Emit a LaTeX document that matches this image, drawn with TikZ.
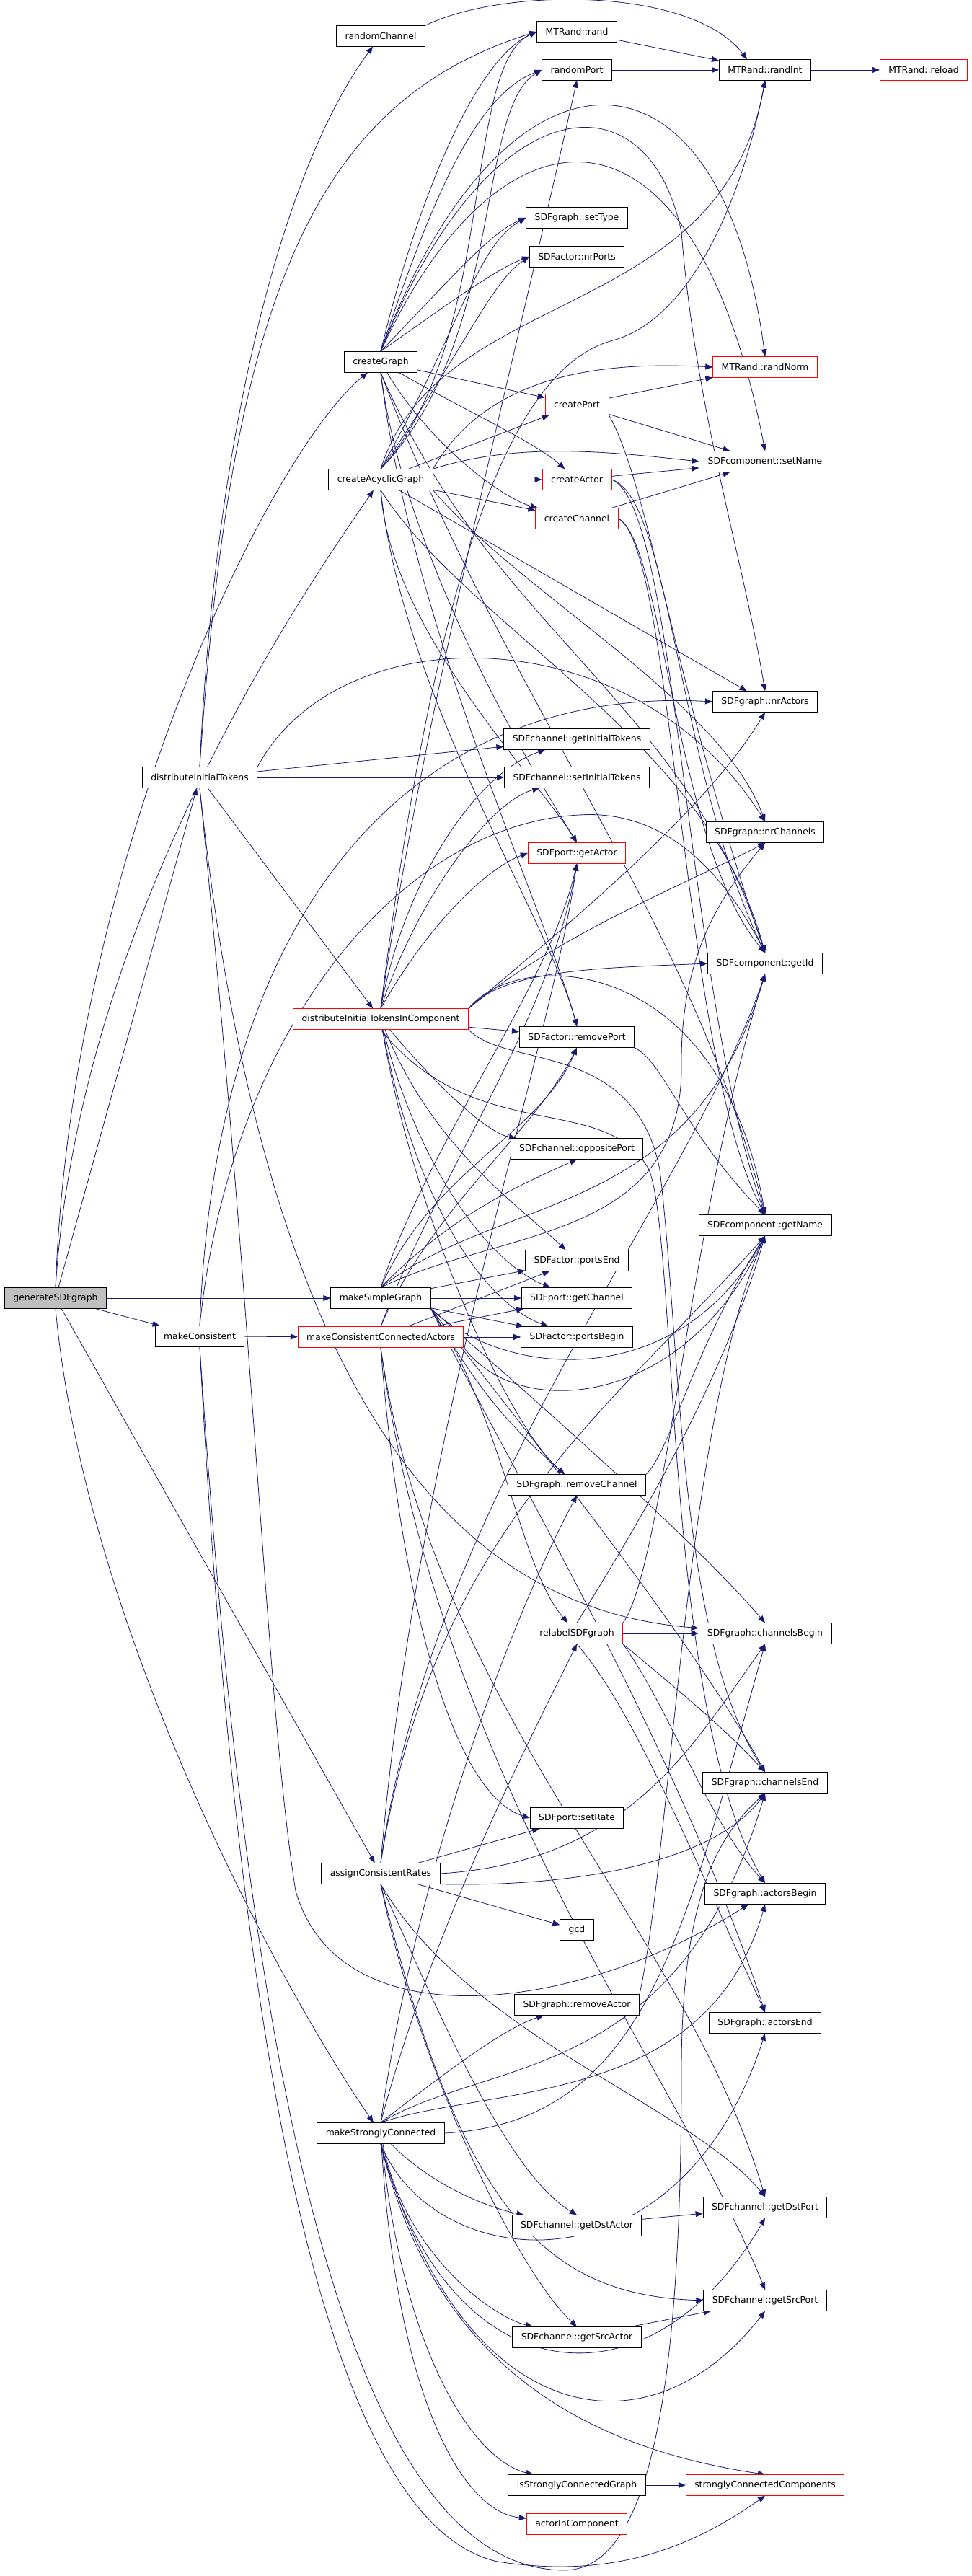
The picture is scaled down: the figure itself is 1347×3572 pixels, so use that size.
\documentclass[tikz,border=0pt]{standalone}
\usepackage{fontspec}
\setmainfont{DejaVu Sans}
\usetikzlibrary{arrows.meta,backgrounds}

\definecolor{edgeColor}{RGB}{25,25,112}
\definecolor{rootFill}{RGB}{191,191,191}
\tikzset{
  fn/.style={draw=black,line width=0.9pt,fill=white,inner xsep=12pt,inner ysep=0pt,
    minimum height=28.5pt,font=\fontsize{12.4}{15}\selectfont},
  fnred/.style={fn,draw=red},
  fnroot/.style={fn,fill=rootFill},
  call/.style={draw=edgeColor,line width=0.8pt,line join=round,-{Triangle[length=10pt,width=8pt]}}
}

\begin{document}
\begin{tikzpicture}[x=1pt,y=1pt]
\path[use as bounding box] (0,0) rectangle (1347,3572);

\node[fnroot] (gen) at (77,1772) {generateSDFgraph};

\node[fn] (dit) at (277,2494) {distributeInitialTokens};
\node[fn] (mc) at (277,1719) {makeConsistent};

\node[fn] (rch) at (528,3522) {randomChannel};
\node[fn] (cg) at (528,3070) {createGraph};
\node[fn] (cag) at (528,2907) {createAcyclicGraph};
\node[fnred] (ditic) at (528,2159) {distributeInitialTokensInComponent};
\node[fn] (msg) at (528,1772) {makeSimpleGraph};
\node[fnred] (mcca) at (528,1718) {makeConsistentConnectedActors};
\node[fn] (acr) at (528,974) {assignConsistentRates};
\node[fn] (msc) at (528,614) {makeStronglyConnected};

\node[fn] (rand) at (800,3528) {MTRand::rand};
\node[fn] (rport) at (800,3475) {randomPort};
\node[fn] (settype) at (800,3270) {SDFgraph::setType};
\node[fn] (nrports) at (800,3216) {SDFactor::nrPorts};
\node[fnred] (cport) at (800,3011) {createPort};
\node[fnred] (cactor) at (800,2907) {createActor};
\node[fnred] (cchan) at (800,2853) {createChannel};
\node[fn] (getinit) at (800,2547) {SDFchannel::getInitialTokens};
\node[fn] (setinit) at (800,2494) {SDFchannel::setInitialTokens};
\node[fnred] (getactor) at (800,2389) {SDFport::getActor};
\node[fn] (rmport) at (800,2134) {SDFactor::removePort};
\node[fn] (opport) at (800,1979) {SDFchannel::oppositePort};
\node[fn] (portsend) at (800,1824) {SDFactor::portsEnd};
\node[fn] (getchan) at (800,1772) {SDFport::getChannel};
\node[fn] (portsbegin) at (800,1718) {SDFactor::portsBegin};
\node[fn] (rmchan) at (800,1513) {SDFgraph::removeChannel};
\node[fnred] (relabel) at (800,1307) {relabelSDFgraph};
\node[fn] (setrate) at (800,1051) {SDFport::setRate};
\node[fn] (gcd) at (800,896) {gcd};
\node[fn] (rmactor) at (800,792) {SDFgraph::removeActor};
\node[fn] (dstactor) at (800,486) {SDFchannel::getDstActor};
\node[fn] (srcactor) at (800,331) {SDFchannel::getSrcActor};
\node[fn] (iscg) at (800,126) {isStronglyConnectedGraph};
\node[fnred] (aic) at (800,72) {actorInComponent};

\node[fn] (rint) at (1061,3475) {MTRand::randInt};
\node[fnred] (rnorm) at (1061,3063) {MTRand::randNorm};
\node[fn] (setname) at (1061,2932) {SDFcomponent::setName};
\node[fn] (nract) at (1061,2599) {SDFgraph::nrActors};
\node[fn] (nrchan) at (1061,2418) {SDFgraph::nrChannels};
\node[fn] (getid) at (1061,2236) {SDFcomponent::getId};
\node[fn] (getname) at (1061,1873) {SDFcomponent::getName};
\node[fn] (chbegin) at (1061,1307) {SDFgraph::channelsBegin};
\node[fn] (chend) at (1061,1100) {SDFgraph::channelsEnd};
\node[fn] (actbegin) at (1061,946) {SDFgraph::actorsBegin};
\node[fn] (actend) at (1061,767) {SDFgraph::actorsEnd};
\node[fn] (dstport) at (1061,511) {SDFchannel::getDstPort};
\node[fn] (srcport) at (1061,382) {SDFchannel::getSrcPort};
\node[fnred] (scc) at (1061,126) {stronglyConnectedComponents};

\node[fnred] (reload) at (1281,3475) {MTRand::reload};

\begin{scope}[on background layer]
% generateSDFgraph
\draw[call] (gen.north) .. controls (100,2400) and (380,2950) .. (cg);
\draw[call] (gen.north) .. controls (110,2300) and (420,2750) .. (cag);
\draw[call] (gen) -- (dit);
\draw[call] (gen) -- (msg);
\draw[call] (gen) -- (mc);
\draw[call] (gen) -- (acr);
\draw[call] (gen.south) .. controls (120,1300) and (400,800) .. (msc);

% distributeInitialTokens
\draw[call] (dit.north) .. controls (300,3000) and (400,3350) .. (rch);
\draw[call] (dit.north) .. controls (320,3150) and (430,3430) .. (rand.west);
\draw[call] (dit) -- (getinit);
\draw[call] (dit) -- (setinit);
\draw[call] (dit) -- (ditic);
\draw[call] (dit.north east) .. controls (470,2720) and (880,2720) .. (nrchan.north);
\draw[call] (dit.south) .. controls (370,1600) and (650,1340) .. (chbegin);
\draw[call] (dit.south) .. controls (355,1700) and (370,1200) .. (410,950) .. controls (470,740) and (800,780) .. (actbegin);

\draw[call] (rch.north east) .. controls (700,3590) and (960,3590) .. ([xshift=-25pt]rint.north);
\draw[call] (rand) -- (rint);
\draw[call] (rport) -- (rint);
\draw[call] (rint) -- (reload);

% createGraph
\draw[call] (cg.north) .. controls (580,3300) and (660,3490) .. (rand.west);
\draw[call] (cg.north) .. controls (600,3300) and (660,3440) .. (rport.west);
\draw[call] (cg.north) .. controls (620,3180) and (680,3250) .. (settype.west);
\draw[call] (cg.north) .. controls (620,3150) and (690,3200) .. (nrports.west);
\draw[call] (cg.north) .. controls (700,3540) and (1000,3540) .. (rnorm.north);
\draw[call] (cg.north) .. controls (680,3460) and (900,3470) .. (945,3250) .. controls (965,3000) and (1030,2800) .. (nract.north);
\draw[call] (cg.north) .. controls (690,3440) and (960,3470) .. (setname.north);
\draw[call] (cg) -- (cport);
\draw[call] (cg) .. controls (650,3000) and (740,2960) .. (cactor);
\draw[call] (cg) .. controls (600,2950) and (700,2880) .. (cchan);
\draw[call] (cg.south) .. controls (560,2800) and (740,2500) .. (getactor.north);
\draw[call] (cg.south) .. controls (570,2700) and (760,2300) .. (rmport.north);
\draw[call] (cg.south) .. controls (680,2700) and (950,2600) .. (getid.north);
\draw[call] (cg.south) .. controls (700,2600) and (960,2300) .. (getname.north);

% createAcyclicGraph
\draw[call] (cag.north) .. controls (690,3100) and (640,3480) .. (rand.west);
\draw[call] (cag.north) .. controls (700,3100) and (660,3420) .. (rport.west);
\draw[call] (cag.north) .. controls (640,3120) and (660,3230) .. (settype.west);
\draw[call] (cag.north) .. controls (640,3080) and (680,3180) .. (nrports.west);
\draw[call] (cag.north) .. controls (610,3180) and (1000,3120) .. (rint.south);
\draw[call] (cag.north east) .. controls (680,3060) and (850,3070) .. (rnorm.west);
\draw[call] (cag) -- (cport);
\draw[call] (cag) -- (cactor);
\draw[call] (cag) -- (cchan);
\draw[call] (cag.north east) .. controls (720,2960) and (850,2945) .. (setname.west);
\draw[call] (cag) -- (nract);
\draw[call] (cag.south) .. controls (540,2700) and (740,2500) .. (getactor.north);
\draw[call] (cag.south) .. controls (560,2600) and (760,2300) .. (rmport.north);
\draw[call] (cag.south) .. controls (650,2700) and (980,2550) .. (getid.north);
\draw[call] (cag.south east) .. controls (720,2750) and (1000,2600) .. (nrchan.north);

\draw[call] (cport) -- (rnorm);
\draw[call] (cport) -- (setname);
\draw[call] (cport.south east) .. controls (900,2900) and (940,2600) .. (getid.north);
\draw[call] (cactor) -- (setname);
\draw[call] (cactor.east) .. controls (930,2880) and (940,2500) .. (getid.north);
\draw[call] (cactor.east) .. controls (940,2870) and (950,2200) .. (getname.north);
\draw[call] (cchan) -- (setname);
\draw[call] (cchan.east) .. controls (920,2820) and (935,2400) .. (getid.north);
\draw[call] (cchan.east) .. controls (935,2810) and (945,2100) .. (getname.north);

% distributeInitialTokensInComponent
\draw[call] (ditic.north) .. controls (560,2350) and (660,2500) .. (getinit);
\draw[call] (ditic.north) .. controls (580,2330) and (680,2460) .. (setinit);
\draw[call] (ditic.north) .. controls (600,2300) and (680,2370) .. (getactor.west);
\draw[call] (ditic.north) .. controls (600,2750) and (700,3060) .. (850,3100) .. controls (960,3130) and (1030,3300) .. (rint.south);
\draw[call] (ditic.north) .. controls (590,2600) and (720,3100) .. (rport.south);
\draw[call] (ditic.north east) .. controls (700,2230) and (850,2230) .. (getid.west);
\draw[call] (ditic.north east) .. controls (720,2260) and (1000,2250) .. (getname.north);
\draw[call] (ditic.north east) .. controls (800,2300) and (980,2450) .. (nract.south);
\draw[call] (ditic.north east) .. controls (780,2280) and (960,2350) .. (nrchan.south);
\draw[call] (ditic) -- (rmport);
\draw[call] (ditic) .. controls (620,2050) and (680,2000) .. (opport);
\draw[call] (ditic) .. controls (600,1980) and (720,1900) .. (portsend);
\draw[call] (ditic) .. controls (580,1950) and (680,1820) .. (getchan);
\draw[call] (ditic) .. controls (570,1930) and (660,1770) .. (portsbegin);
\draw[call] (ditic) .. controls (570,1900) and (700,1600) .. (rmchan);
\draw[call] (ditic.south east) .. controls (700,2090) and (880,2130) .. (915,1950) .. controls (945,1700) and (940,1300) .. (chend.north);
\draw[call] (ditic.south) .. controls (660,1980) and (840,2060) .. (900,1950) .. controls (940,1850) and (920,1200) .. (actbegin.north);

% makeSimpleGraph
\draw[call] (msg.north) .. controls (600,2000) and (760,2200) .. (getactor.south);
\draw[call] (msg.north) .. controls (600,1950) and (750,2000) .. (rmport.south);
\draw[call] (msg.north) .. controls (620,1880) and (700,1920) .. (opport.south);
\draw[call] (msg) -- (portsend);
\draw[call] (msg) -- (getchan);
\draw[call] (msg) -- (portsbegin);
\draw[call] (msg.north) .. controls (700,1920) and (960,1880) .. (getid.south);
\draw[call] (msg.north) .. controls (700,1870) and (950,1850) .. (945,2100) .. controls (945,2250) and (1000,2330) .. (nrchan.south);
\draw[call] (msg.south east) .. controls (700,1660) and (940,1640) .. (getname.south);
\draw[call] (msg.south east) .. controls (660,1650) and (700,1600) .. (rmchan);
\draw[call] (msg.south east) .. controls (700,1600) and (720,1400) .. (relabel);
\draw[call] (msg.south east) .. controls (720,1650) and (950,1450) .. (chbegin.north);
\draw[call] (msg.south east) .. controls (720,1600) and (960,1300) .. (chend.north);
\draw[call] (msg.south east) .. controls (700,1550) and (940,1150) .. (actend.north);

% makeConsistent
\draw[call] (mc) -- (mcca);
\draw[call] (mc.north) .. controls (300,2350) and (600,2620) .. (nract.west);
\draw[call] (mc.north) .. controls (320,2150) and (560,2430) .. (804,2442) .. controls (930,2450) and (1010,2350) .. (getid.north);
\draw[call] (mc.south) .. controls (320,900) and (420,80) .. (690,20) .. controls (850,-5) and (960,40) .. (scc.south);
\draw[call] (mc.south) .. controls (330,900) and (440,15) .. (780,8) .. controls (900,5) and (945,250) .. (945,700) .. controls (945,950) and (1000,1030) .. (chend.south);

% makeConsistentConnectedActors
\draw[call] (mcca) -- (portsbegin);
\draw[call] (mcca) -- (getchan);
\draw[call] (mcca) -- (portsend);
\draw[call] (mcca.north) .. controls (600,1900) and (740,2000) .. (rmport.south);
\draw[call] (mcca.north) .. controls (610,1950) and (760,2150) .. (getactor.south);
\draw[call] (mcca.south east) .. controls (720,1600) and (950,1620) .. (getname.south);
\draw[call] (mcca.south) .. controls (560,1300) and (640,1080) .. (setrate.west);
\draw[call] (mcca.south) .. controls (600,1200) and (950,900) .. (dstport.north);
\draw[call] (mcca.south) .. controls (610,1100) and (940,700) .. (srcport.north);

\draw[call] (rmport.south east) .. controls (920,2100) and (950,2000) .. (getname.north);
\draw[call] (rmchan.north east) .. controls (930,1560) and (960,1700) .. (getname.south);
\draw[call] (rmactor.north east) .. controls (930,1000) and (950,1600) .. (getname.south);

% relabelSDFgraph
\draw[call] (relabel) -- (chbegin);
\draw[call] (relabel.north east) .. controls (920,1400) and (960,1900) .. (getid.south);
\draw[call] (relabel.north) .. controls (880,1450) and (1000,1650) .. (getname.south);
\draw[call] (relabel.south east) .. controls (950,1220) and (1000,1180) .. (chend.north);
\draw[call] (relabel.south east) .. controls (930,1200) and (980,1050) .. (actbegin.north);
\draw[call] (relabel.south) .. controls (880,1200) and (960,1000) .. (actend.north);

% assignConsistentRates
\draw[call] (acr) -- (setrate);
\draw[call] (acr) -- (gcd);
\draw[call] (acr.east) .. controls (870,990) and (960,1150) .. (chbegin.south);
\draw[call] (acr.south east) .. controls (800,955) and (990,990) .. (chend.south);
\draw[call] (acr.north) .. controls (600,1450) and (850,1620) .. (getname.south);
\draw[call] (acr.north) .. controls (600,1500) and (950,1900) .. (getid.south);
\draw[call] (acr.north) .. controls (580,1600) and (760,2100) .. (getactor.south);
\draw[call] (acr.south) .. controls (600,800) and (700,560) .. (dstactor.north);
\draw[call] (acr.south) .. controls (580,700) and (720,420) .. (srcactor.north);
\draw[call] (acr.south) .. controls (650,750) and (960,650) .. (dstport.north);
\draw[call] (acr.south) .. controls (640,500) and (760,390) .. (srcport.west);

% makeStronglyConnected
\draw[call] (msc.north) .. controls (600,900) and (730,1150) .. (relabel.south);
\draw[call] (msc.north) .. controls (620,700) and (700,760) .. (rmactor);
\draw[call] (msc.north) .. controls (580,1000) and (720,1350) .. (rmchan.south);
\draw[call] (msc.north) .. controls (680,720) and (940,680) .. (chend.south);
\draw[call] (msc.north) .. controls (680,680) and (980,650) .. (actbegin.south);
\draw[call] (msc.east) .. controls (900,630) and (950,900) .. (chbegin.south);
\draw[call] (msc.south) .. controls (600,420) and (940,380) .. (actend.south);
\draw[call] (msc.south) .. controls (620,250) and (900,220) .. (dstport.south);
\draw[call] (msc.south) .. controls (640,200) and (900,160) .. (srcport.south);
\draw[call] (msc) .. controls (600,540) and (680,510) .. (dstactor);
\draw[call] (msc) .. controls (560,450) and (680,360) .. (srcactor);
\draw[call] (msc) .. controls (560,300) and (660,160) .. (iscg);
\draw[call] (msc) .. controls (550,250) and (640,90) .. (aic);
\draw[call] (msc.south) .. controls (600,300) and (800,180) .. (scc.north);

\draw[call] (dstactor) -- (dstport);
\draw[call] (srcactor) -- (srcport);
\draw[call] (iscg) -- (scc);
\end{scope}
\end{tikzpicture}
\end{document}
